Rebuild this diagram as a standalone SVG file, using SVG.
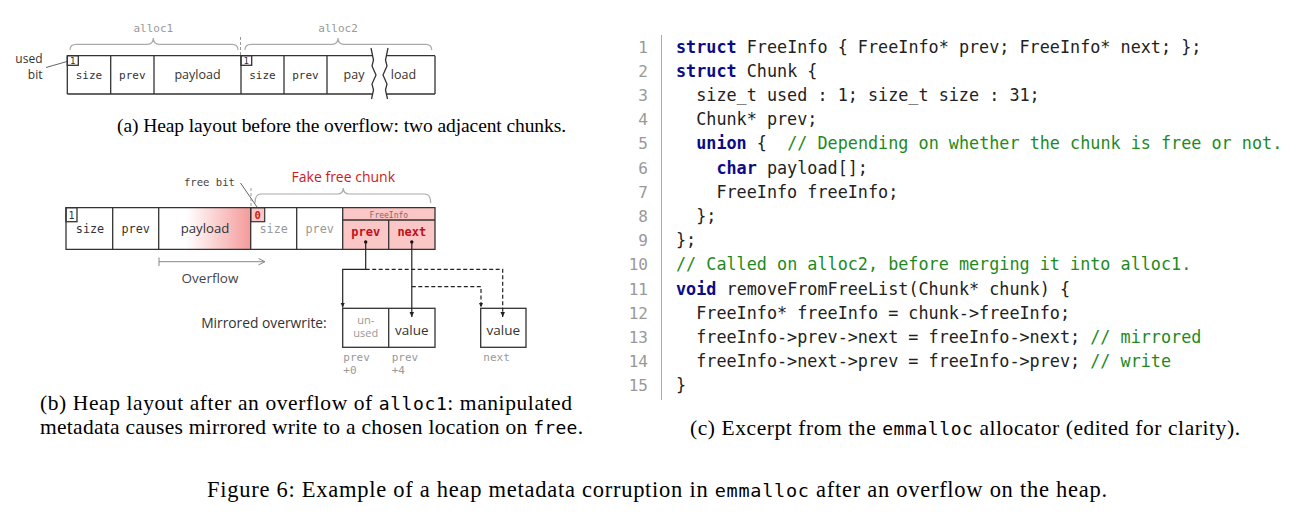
<svg xmlns="http://www.w3.org/2000/svg" width="1313" height="518" viewBox="0 0 1313 518">
<style>
.ln{stroke:#333;stroke-width:1.3;fill:none}
.thin{stroke:#666;stroke-width:1;fill:none}
.brace{stroke:#aaa;stroke-width:1.2;fill:none}
.mono{font-family:"DejaVu Sans Mono","Liberation Mono",monospace}
.sans{font-family:"Open Sans","Noto Sans",sans-serif}
.dk{fill:#333}
.gr{fill:#999}
.c{text-anchor:middle}
.e{text-anchor:end}
.red{fill:#cc1a1a}
.code{font-family:"DejaVu Sans Mono","Liberation Mono",monospace;font-size:16.8px;fill:#222}
.kw{fill:#0b0b86;font-weight:bold}
.cm{fill:#1d8a1d}
.lnum{font-family:"DejaVu Sans Mono","Liberation Mono",monospace;font-size:16px;fill:#999;text-anchor:end}
.cap{font-family:"Liberation Serif","Times New Roman",serif;fill:#000}
.capm{font-family:"DejaVu Sans Mono","Liberation Mono",monospace}
.conn{stroke:#222;stroke-width:1.2;fill:none}
.dash{stroke-dasharray:4 2.5}
</style>
<defs>
<linearGradient id="ovf" x1="0" y1="0" x2="1" y2="0">
<stop offset="0" stop-color="#ffffff"/>
<stop offset="0.3" stop-color="#ffffff"/>
<stop offset="1" stop-color="#f59a9a"/>
</linearGradient>
<marker id="ah" markerWidth="6" markerHeight="5" refX="5" refY="2.25" orient="auto" markerUnits="userSpaceOnUse">
<path d="M0,0 L5,2.25 L0,4.5 z" fill="#222"/>
</marker>
</defs>

<!-- (a) Heap layout before the overflow -->
<g id="layout-a">
<text class="mono gr c" x="153.3" y="32" font-size="11">alloc1</text>
<text class="mono gr c" x="338" y="32" font-size="11">alloc2</text>
<path class="brace" d="M70,50 Q70,44.3 76,44.3 L147.3,44.3 Q153.3,44.3 153.3,38 Q153.3,44.3 159.3,44.3 L232,44.3 Q238,44.3 238,50"/>
<path class="brace" d="M245,50 Q245,44.3 251,44.3 L332,44.3 Q338,44.3 338,38 Q338,44.3 344,44.3 L425.7,44.3 Q431.7,44.3 431.7,50"/>
<line x1="240.5" y1="37" x2="240.5" y2="55.7" stroke="#999" stroke-width="1" stroke-dasharray="3 2"/>
<text class="sans dk e" x="42.5" y="62.5" font-size="12">used</text>
<text class="sans dk e" x="42.5" y="79" font-size="12">bit</text>
<line class="thin" x1="46" y1="67.5" x2="67" y2="61.5"/>
<path class="ln" d="M67.3,55.7 H372 M387,55.7 H435 M67.3,94 H372 M387,94 H435 M67.3,55.7 V94 M435,55.7 V94 M110.7,55.7 V94 M154,55.7 V94 M241,55.7 V94 M284,55.7 V94 M327,55.7 V94"/>
<path class="ln" d="M371,48 L373.5,60 L372,66 L376,75 L372,84 L373.5,90 L371.5,99"/>
<path class="ln" d="M388,48 L385.5,60 L387,66 L383,75 L387,84 L385.5,90 L387.5,99"/>
<rect class="ln" x="67.3" y="55.7" width="11" height="9.6" stroke-width="1"/>
<rect class="ln" x="241" y="55.7" width="10.7" height="9.6" stroke-width="1"/>
<text class="mono dk c" x="72.8" y="63.8" font-size="9">1</text>
<text class="mono dk c" x="246.3" y="63.8" font-size="9">1</text>
<text class="mono dk c" x="89" y="79" font-size="11">size</text>
<text class="mono dk c" x="132.3" y="79" font-size="11">prev</text>
<text class="sans dk c" x="197.5" y="79" font-size="12.5">payload</text>
<text class="mono dk c" x="262.5" y="79" font-size="11">size</text>
<text class="mono dk c" x="305.5" y="79" font-size="11">prev</text>
<text class="sans dk c" x="354" y="79" font-size="12.5">pay</text>
<text class="sans dk c" x="403.5" y="79" font-size="12.5">load</text>
</g>

<!-- (b) Heap layout after the overflow -->
<g id="layout-b">
<text class="sans red c" x="343.3" y="181.5" font-size="14">Fake free chunk</text>
<path class="brace" d="M255,203 Q255,194 261,194 L337.3,194 Q343.3,194 343.3,188 Q343.3,194 349.3,194 L424.7,194 Q430.7,194 430.7,203"/>
<text class="mono e" x="235" y="186" font-size="10.6" fill="#444">free bit</text>
<line class="thin" x1="240.5" y1="183" x2="257" y2="207"/>
<line x1="251" y1="188" x2="251" y2="207.7" stroke="#999" stroke-width="1" stroke-dasharray="3 2"/>
<rect x="158.7" y="207.7" width="92" height="41.6" fill="url(#ovf)"/>
<rect x="342.7" y="207.7" width="92.3" height="41.6" fill="#fbc6c6"/>
<rect x="250.7" y="207.7" width="14" height="14" fill="#fbc6c6" stroke="#333" stroke-width="1.2"/>
<path class="ln" d="M66,207.7 H435 V249.3 H66 Z M112.7,207.7 V249.3 M158.7,207.7 V249.3 M250.7,207.7 V249.3 M296.7,207.7 V249.3 M342.7,207.7 V249.3 M342.7,220 H435 M388.7,220 V249.3"/>
<rect class="ln" x="66" y="207.7" width="11" height="14" stroke-width="1"/>
<text class="mono dk c" x="71.5" y="218.5" font-size="10">1</text>
<text class="mono red c" x="257.7" y="218.8" font-size="10.5" font-weight="bold">0</text>
<text class="mono dk c" x="90" y="232.7" font-size="11.8">size</text>
<text class="mono dk c" x="135.7" y="232.7" font-size="11.8">prev</text>
<text class="sans dk c" x="205" y="232.7" font-size="13.2">payload</text>
<text class="mono gr c" x="273.7" y="232.7" font-size="11.8">size</text>
<text class="mono gr c" x="319.7" y="232.7" font-size="11.8">prev</text>
<text class="mono c" x="388.85" y="217.5" font-size="8" fill="#806868">FreeInfo</text>
<text class="mono c" x="365.7" y="235.5" font-size="12" font-weight="bold" fill="#c0101a">prev</text>
<text class="mono c" x="411.85" y="235.5" font-size="12" font-weight="bold" fill="#c0101a">next</text>
<circle cx="365.7" cy="242" r="1.7" fill="#111"/>
<circle cx="411.8" cy="242" r="1.7" fill="#111"/>
<path d="M159,261.7 H264.5 M159,257.5 V266 M258.5,258.5 L265,261.7 L258.5,264.9" stroke="#888" stroke-width="1" fill="none"/>
<text class="sans c" x="210" y="283" font-size="13.5" fill="#444">Overflow</text>
</g>

<g id="mirrored">
<text class="sans dk e" x="326.7" y="327.5" font-size="13.8">Mirrored overwrite:</text>
<rect class="ln" x="342.7" y="308.3" width="92.3" height="39"/>
<line class="ln" x1="388.7" y1="308.3" x2="388.7" y2="347.3"/>
<text class="sans gr c" x="365.7" y="323.5" font-size="11">un-</text>
<text class="sans gr c" x="365.7" y="337" font-size="11">used</text>
<text class="sans dk c" x="411.85" y="335" font-size="13.5">value</text>
<rect class="ln" x="480.7" y="308.3" width="45.3" height="39"/>
<text class="sans dk c" x="503.3" y="335" font-size="13.5">value</text>
<text class="mono gr" x="343.3" y="361" font-size="11">prev</text>
<text class="mono gr" x="343.3" y="374" font-size="11">+0</text>
<text class="mono gr" x="391.7" y="361" font-size="11">prev</text>
<text class="mono gr" x="391.7" y="374" font-size="11">+4</text>
<text class="mono gr" x="483.3" y="361" font-size="11">next</text>
</g>

<g id="connectors">
<path class="conn" d="M365.7,242 V269.3 H342.7 V307.5" marker-end="url(#ah)"/>
<path class="conn" d="M411.8,242 V317" marker-end="url(#ah)"/>
<path class="conn dash" d="M365.7,269.3 H502.7 V317" marker-end="url(#ah)"/>
<path class="conn dash" d="M411.8,286.7 H481 V307.5" marker-end="url(#ah)"/>
</g>

<!-- (c) code listing -->
<g id="code">
<line x1="661.5" y1="35" x2="661.5" y2="400" stroke="#aaa" stroke-width="1"/>
<text class="lnum" x="648" y="52.5">1</text>
<text class="lnum" x="648" y="76.7">2</text>
<text class="lnum" x="648" y="100.9">3</text>
<text class="lnum" x="648" y="125.1">4</text>
<text class="lnum" x="648" y="149.3">5</text>
<text class="lnum" x="648" y="173.6">6</text>
<text class="lnum" x="648" y="197.8">7</text>
<text class="lnum" x="648" y="222">8</text>
<text class="lnum" x="648" y="246.2">9</text>
<text class="lnum" x="648" y="270.4">10</text>
<text class="lnum" x="648" y="294.6">11</text>
<text class="lnum" x="648" y="318.8">12</text>
<text class="lnum" x="648" y="343">13</text>
<text class="lnum" x="648" y="367.2">14</text>
<text class="lnum" x="648" y="391.4">15</text>
<text class="code" x="676" y="52.5"><tspan class="kw">struct</tspan> FreeInfo { FreeInfo* prev; FreeInfo* next; };</text>
<text class="code" x="676" y="76.7"><tspan class="kw">struct</tspan> Chunk {</text>
<text class="code" x="696.2" y="100.9">size_t used : 1; size_t size : 31;</text>
<text class="code" x="696.2" y="125.1">Chunk* prev;</text>
<text class="code" x="696.2" y="149.3"><tspan class="kw">union</tspan> {<tspan class="cm" x="787.2">// Depending on whether the chunk is free or not.</tspan></text>
<text class="code" x="716.4" y="173.6"><tspan class="kw">char</tspan> payload[];</text>
<text class="code" x="716.4" y="197.8">FreeInfo freeInfo;</text>
<text class="code" x="696.2" y="222">};</text>
<text class="code" x="676" y="246.2">};</text>
<text class="code cm" x="676" y="270.4">// Called on alloc2, before merging it into alloc1.</text>
<text class="code" x="676" y="294.6"><tspan class="kw">void</tspan> removeFromFreeList(Chunk* chunk) {</text>
<text class="code" x="696.2" y="318.8">FreeInfo* freeInfo = chunk-&gt;freeInfo;</text>
<text class="code" x="696.2" y="343">freeInfo-&gt;prev-&gt;next = freeInfo-&gt;next; <tspan class="cm">// mirrored</tspan></text>
<text class="code" x="696.2" y="367.2">freeInfo-&gt;next-&gt;prev = freeInfo-&gt;prev; <tspan class="cm">// write</tspan></text>
<text class="code" x="676" y="391.4">}</text>
</g>

<!-- captions -->
<g id="captions">
<text class="cap" x="117" y="132" font-size="19.5" textLength="449" lengthAdjust="spacing">(a) Heap layout before the overflow: two adjacent chunks.</text>
<text class="cap" x="40" y="410" font-size="21.5" textLength="532" lengthAdjust="spacing">(b) Heap layout after an overflow of <tspan class="capm" font-size="18">alloc1</tspan>: manipulated</text>
<text class="cap" x="40" y="434" font-size="21.5" textLength="543" lengthAdjust="spacing">metadata causes mirrored write to a chosen location on <tspan class="capm" font-size="18">free</tspan>.</text>
<text class="cap" x="690" y="435" font-size="21.5" textLength="550" lengthAdjust="spacing">(c) Excerpt from the <tspan class="capm" font-size="18">emmalloc</tspan> allocator (edited for clarity).</text>
<text class="cap" x="207" y="497" font-size="22.5" textLength="900" lengthAdjust="spacing">Figure 6: Example of a heap metadata corruption in <tspan class="capm" font-size="18.5">emmalloc</tspan> after an overflow on the heap.</text>
</g>
</svg>
